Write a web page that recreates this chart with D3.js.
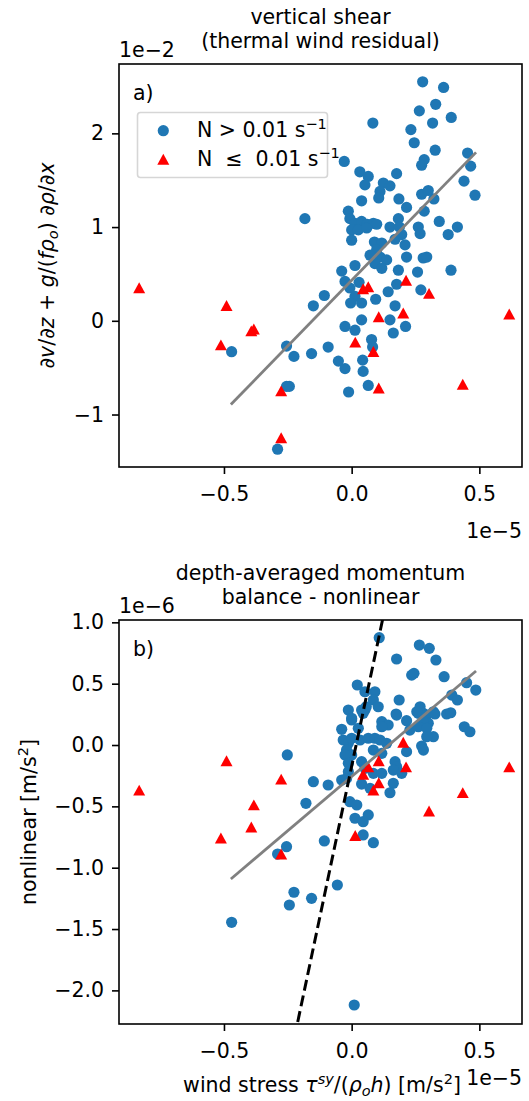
<!DOCTYPE html>
<html lang="en">
<head>
    <meta charset="UTF-8">
    <title>shear and momentum</title>
    <script src="https://d3js.org/d3.v7.min.js"></script>
    <style>
        body { margin: 0; background: #fff; }
        text {
            font-family: 'DejaVu Sans', sans-serif;
            font-size: 20.5px;
            fill: #000;
        }
    </style>
</head>
<body>

<script>
    const width  = 529;
    const height = 1101;

    // tick values
    const xTicks  = [-0.5, 0, 0.5];
    const yTicksA = [-1, 0, 1, 2];
    const yTicksB = [-2, -1.5, -1, -0.5, 0, 0.5, 1];

    // triangles (N <= 0.01), x shared by both panels, units 1e-5
    const triX  = [-0.832, -0.49, -0.383, -0.393, -0.512, -0.276, -0.276, 0.014, 0.065, 0.045, 0.085, 0.106, 0.106, 0.202, 0.213, 0.303, 0.435, 0.617];
    const triYa = [0.35, 0.16, -0.09, -0.11, -0.26, -0.75, -1.25, -0.23, 0.36, 0.34, -0.33, 0.04, -0.72, 0.08, 0.43, 0.29, -0.68, 0.07];
    const triYb = [-0.37, -0.13, -0.49, -0.67, -0.76, -0.28, -0.89, -0.74, -0.18, -0.24, -0.37, -0.13, -0.31, 0.02, -0.18, -0.54, -0.39, -0.18];

    // circles (N > 0.01), panel a
    const circAx = [0.278, 0.360, 0.329, 0.265, 0.390, 0.317, 0.083, 0.232, 0.245, 0.327, 0.284, 0.274, 0.454, 0.466, -0.029, 0.440, 0.483,
        0.032, 0.065, 0.176, 0.052, 0.124, 0.150, 0.111, 0.106, 0.039, 0.185, 0.215, 0.274, 0.300, 0.322, 0.284, -0.013, -0.183,
        -0.007, 0.013, 0.039, 0.061, 0.085, 0.098, 0.0, 0.026, 0.059, 0.0,
        0.183, 0.150, 0.187, 0.261, 0.268, 0.343, 0.414, 0.378, 0.170, 0.196, 0.209, 0.089, 0.118,
        0.098, 0.072, 0.111, 0.137, 0.091, 0.118, 0.215, 0.280, 0.294, 0.013, -0.039, -0.026, -0.007, 0.029, 0.183, 0.258, 0.389,
        0.176, 0.143, 0.271, -0.107, -0.150, 0.013, -0.004, 0.039, 0.094, 0.170, 0.039, -0.026, 0.013, 0.150, 0.163, 0.211,
        0.078, 0.082, -0.092, -0.157, -0.226, -0.255, -0.052, -0.026, 0.043, 0.045, 0.065, -0.012, -0.244, -0.255, -0.290, -0.47];
    const circAy = [2.55, 2.49, 2.31, 2.24, 2.17, 2.11, 2.11, 2.04, 1.90, 1.82, 1.72, 1.66, 1.79, 1.65, 1.70, 1.49, 1.34,
        1.59, 1.54, 1.57, 1.45, 1.47, 1.44, 1.38, 1.31, 1.28, 1.30, 1.21, 1.35, 1.39, 1.30, 1.17, 1.17, 1.09,
        1.09, 1.04, 1.06, 1.03, 1.04, 1.03, 0.97, 0.97, 0.99, 0.86,
        1.09, 1.00, 1.00, 1.00, 0.93, 1.06, 1.00, 0.92, 0.87, 0.92, 0.81, 0.84, 0.83,
        0.76, 0.70, 0.68, 0.65, 0.61, 0.56, 0.68, 0.67, 0.68, 0.59, 0.53, 0.42, 0.35, 0.41, 0.54, 0.52, 0.54,
        0.39, 0.31, 0.33, 0.27, 0.16, 0.26, 0.19, 0.19, 0.23, 0.16, 0.01, -0.06, -0.10, 0.01, -0.13, -0.06,
        -0.20, -0.28, -0.28, -0.35, -0.38, -0.27, -0.43, -0.51, -0.42, -0.54, -0.69, -0.76, -0.70, -0.70, -1.37, -0.33];

    // circles, panel b
    const circBx = [0.108, 0.265, 0.304, 0.176, 0.330, 0.235, 0.244, 0.362, 0.022, 0.450, 0.486, 0.091, 0.052, 0.085, 0.104, 0.186,
        0.392, 0.414, -0.013, 0.039, 0.052, 0.057, 0.045, 0.174, 0.268, 0.261, 0.281, 0.255, 0.320, 0.294, 0.326, 0.372, 0.388,
        0.0, 0.0, 0.026, 0.118, 0.143, 0.118, 0.215, 0.228, 0.300, 0.281, 0.261, 0.294, 0.320, 0.294, 0.441, 0.463, -0.039, 0.176,
        -0.033, -0.013, 0.0, 0.033, 0.065, 0.091, 0.111, 0.137, -0.020, 0.0, -0.026, 0.085, 0.118, 0.215, 0.274, 0.281,
        0.170, 0.176, 0.163, 0.196, -0.013, -0.013, 0.039, 0.052, 0.085, 0.118, 0.163, -0.039, -0.020, 0.039, 0.150, 0.072,
        -0.092, -0.150, -0.179, -0.252, -0.007, 0.020, 0.013, 0.045, 0.065, 0.045, 0.085, -0.107, -0.255, -0.290,
        -0.056, -0.226, -0.157, -0.244, -0.47, 0.010];
    const circBy = [0.875, 0.815, 0.788, 0.701, 0.693, 0.570, 0.584, 0.557, 0.489, 0.508, 0.448, 0.434, 0.434, 0.367, 0.312, 0.367,
        0.407, 0.367, 0.285, 0.285, 0.285, 0.312, 0.258, 0.253, 0.312, 0.258, 0.258, 0.271, 0.271, 0.244, 0.253, 0.253, 0.263,
        0.204, 0.218, 0.136, 0.190, 0.163, 0.149, 0.198, 0.122, 0.177, 0.190, 0.149, 0.136, 0.068, 0.068, 0.149, 0.108, 0.128, 0.244,
        0.041, 0.014, 0.055, 0.041, 0.055, 0.055, 0.041, 0.014, -0.041, -0.081, -0.081, -0.041, -0.068, -0.054, -0.008, -0.041,
        -0.136, -0.177, -0.204, -0.231, -0.149, -0.218, -0.136, -0.19, -0.231, -0.231, -0.312, -0.285, -0.272, -0.318, -0.389, -0.353,
        -0.326, -0.299, -0.475, -0.081, -0.462, -0.489, -0.597, -0.625, -0.570, -0.733, -0.796, -0.782, -0.829, -0.889,
        -1.141, -1.2, -1.25, -1.304, -1.445, -2.119];

    // fitted lines
    const fitX   = [-0.473, 0.487];
    const fitYa  = [-0.893, 1.797];
    const fitYb  = [-1.092, 0.603];
    const dashX  = [-0.25, 0.13];
    const dashYb = [-2.64, 1.11];

    const blue = "#1f77b4";
    const red  = "#ff0000";
    const minus = s => s.replace("-", "\u2212");

    const svg = d3.select("body").append("svg")
                  .attr("width", width).attr("height", height);

    const x = d3.scaleLinear().domain([-0.911, 0.667]).range([119, 522]);
    const yA = d3.scaleLinear().domain([-1.56, 2.74]).range([467, 64]);
    const yB = d3.scaleLinear().domain([-2.274, 1.019]).range([1024, 620]);

    const triPath = "M0,-5.7L6,5.2L-6,5.2Z";

    function panel(id, y, yTicks, yFmt, circX, circY, triY, title, offsetY, letter) {
        const g = svg.append("g");
        const [top, bottom] = [y.range()[1], y.range()[0]];

        g.append("clipPath").attr("id", "clip" + id)
            .append("rect").attr("x", 119).attr("y", top).attr("width", 403).attr("height", bottom - top);

        // axes
        g.append("g").attr("transform", "translate(0," + bottom + ")")
            .call(d3.axisBottom(x).tickValues(xTicks).tickSize(7).tickPadding(12)
                .tickFormat(d => minus(d3.format(".1f")(d))))
            .call(a => a.select(".domain").remove());
        g.append("g").attr("transform", "translate(119,0)")
            .call(d3.axisLeft(y).tickValues(yTicks).tickSize(7).tickPadding(8)
                .tickFormat(d => minus(yFmt(d))))
            .call(a => a.select(".domain").remove());
        g.selectAll(".tick line").attr("stroke-width", 1.6);
        g.selectAll(".tick text").style("font-size", "20.5px")
            .style("font-family", "'DejaVu Sans', sans-serif");

        const c = g.append("g").attr("clip-path", "url(#clip" + id + ")");
        c.selectAll("circle").data(d3.range(circX.length)).join("circle")
            .attr("cx", i => x(circX[i])).attr("cy", i => y(circY[i]))
            .attr("r", 5.6).attr("fill", blue);
        c.selectAll("path.tri").data(d3.range(triX.length)).join("path")
            .attr("class", "tri")
            .attr("d", triPath)
            .attr("transform", i => "translate(" + x(triX[i]) + "," + y(triY[i]) + ")")
            .attr("fill", red);

        // frame
        g.append("rect").attr("x", 119).attr("y", top).attr("width", 403).attr("height", bottom - top)
            .attr("fill", "none").attr("stroke", "#000").attr("stroke-width", 1.6);

        title.forEach((t, i) => {
            g.append("text").attr("x", 320.5).attr("y", top - 40 + i * 24)
                .attr("text-anchor", "middle").text(t);
        });
        g.append("text").attr("x", 119).attr("y", top - 7.5).text(offsetY);
        g.append("text").attr("x", 133).attr("y", top + 36).text(letter);
        return c;
    }

    const line = d3.line();

    // panel a
    const ca = panel("a", yA, yTicksA, d3.format("d"), circAx, circAy, triYa,
        ["vertical shear", "(thermal wind residual)"], "1e\u22122", "a)");
    ca.append("path").attr("d", line(fitX.map((v, i) => [x(v), yA(fitYa[i])])))
        .attr("stroke", "gray").attr("stroke-width", 2.8).attr("fill", "none");

    svg.append("text").attr("x", 522).attr("y", 538).attr("text-anchor", "end").text("1e\u22125");

    // legend
    const lg = svg.append("g");
    lg.append("rect").attr("x", 137.5).attr("y", 112.5).attr("width", 190).attr("height", 65).attr("rx", 3)
        .attr("fill", "#fff").attr("fill-opacity", 0.8).attr("stroke", "#d6d6d6").attr("stroke-width", 1.6);
    lg.append("circle").attr("cx", 163.3).attr("cy", 130.7).attr("r", 5.6).attr("fill", blue);
    lg.append("path").attr("d", triPath).attr("transform", "translate(163.3,159.5)").attr("fill", red);
    const l1 = lg.append("text").attr("x", 197).attr("y", 137);
    l1.append("tspan").text("N > 0.01 s");
    l1.append("tspan").attr("dy", -8).style("font-size", "14.5px").text("\u22121");
    const l2 = lg.append("text").attr("x", 197).attr("y", 166).attr("xml:space", "preserve")
        .style("white-space", "pre");
    l2.append("tspan").text("N  \u2264  0.01 s");
    l2.append("tspan").attr("dy", -8).style("font-size", "14.5px").text("\u22121");

    // y label a
    const yla = svg.append("text").attr("transform", "translate(54,265.5) rotate(-90)").attr("text-anchor", "middle");
    yla.append("tspan").text("\u2202");
    yla.append("tspan").style("font-style", "italic").text("v");
    yla.append("tspan").text("/\u2202");
    yla.append("tspan").style("font-style", "italic").text("z");
    yla.append("tspan").text(" + ");
    yla.append("tspan").style("font-style", "italic").text("g");
    yla.append("tspan").text("/(");
    yla.append("tspan").style("font-style", "italic").text("f\u03c1");
    yla.append("tspan").attr("dy", 4).style("font-size", "14.5px").style("font-style", "italic").text("o");
    yla.append("tspan").attr("dy", -4).text(") \u2202");
    yla.append("tspan").style("font-style", "italic").text("\u03c1");
    yla.append("tspan").text("/\u2202");
    yla.append("tspan").style("font-style", "italic").text("x");

    // panel b
    const cb = panel("b", yB, yTicksB, d3.format(".1f"), circBx, circBy, triYb,
        ["depth-averaged momentum", "balance - nonlinear"], "1e\u22126", "b)");
    cb.append("path").attr("d", line(fitX.map((v, i) => [x(v), yB(fitYb[i])])))
        .attr("stroke", "gray").attr("stroke-width", 2.8).attr("fill", "none");
    cb.append("path").attr("d", line(dashX.map((v, i) => [x(v), yB(dashYb[i])])))
        .attr("stroke", "#000").attr("stroke-width", 3).attr("stroke-dasharray", "11,5").attr("fill", "none");

    // x label b
    const xlb = svg.append("text").attr("x", 322).attr("y", 1092).attr("text-anchor", "middle");
    xlb.append("tspan").text("wind stress ");
    xlb.append("tspan").style("font-style", "italic").text("\u03c4");
    xlb.append("tspan").attr("dy", -8).style("font-size", "14.5px").style("font-style", "italic").text("sy");
    xlb.append("tspan").attr("dy", 8).text("/(");
    xlb.append("tspan").style("font-style", "italic").text("\u03c1");
    xlb.append("tspan").attr("dy", 4).style("font-size", "14.5px").style("font-style", "italic").text("o");
    xlb.append("tspan").attr("dy", -4).style("font-style", "italic").text("h");
    xlb.append("tspan").text(") [m/s");
    xlb.append("tspan").attr("dy", -8).style("font-size", "14.5px").text("2");
    xlb.append("tspan").attr("dy", 8).text("]");

    svg.append("text").attr("x", 522).attr("y", 1085).attr("text-anchor", "end").text("1e\u22125");

    // y label b
    const ylb = svg.append("text").attr("transform", "translate(36,822) rotate(-90)").attr("text-anchor", "middle");
    ylb.append("tspan").text("nonlinear [m/s");
    ylb.append("tspan").attr("dy", -8).style("font-size", "14.5px").text("2");
    ylb.append("tspan").attr("dy", 8).text("]");
</script>

</body>
</html>
